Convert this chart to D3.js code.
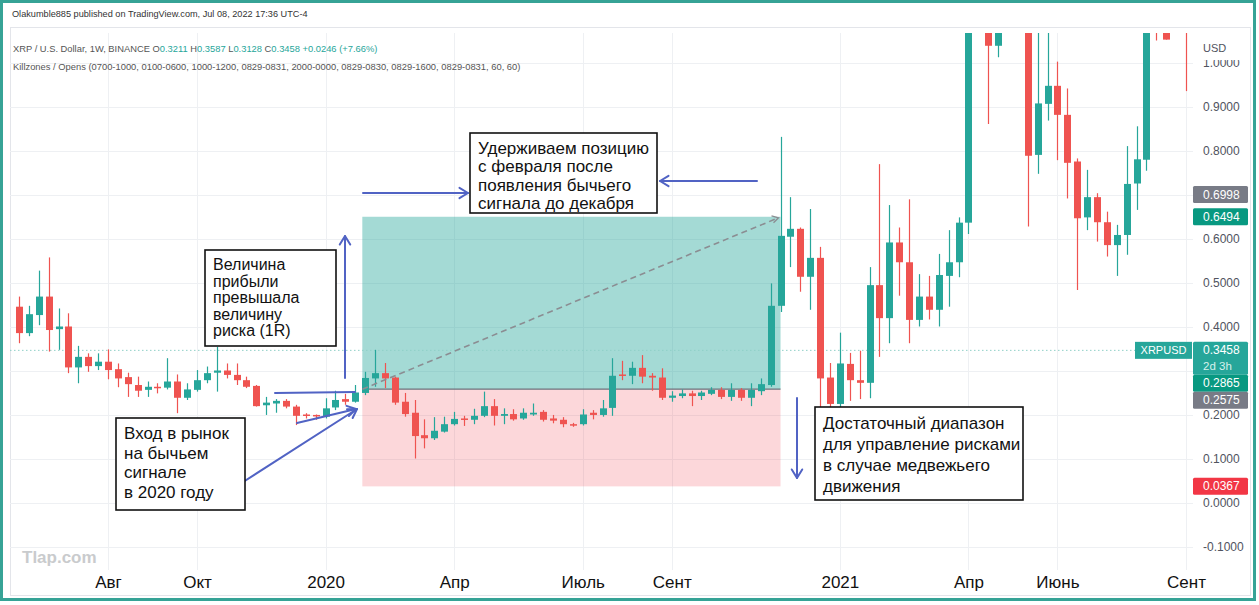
<!DOCTYPE html>
<html>
<head>
<meta charset="utf-8">
<script src="https://cdn.jsdelivr.net/npm/d3@7"></script>
<style>
body { margin: 0; background: #fff; }
svg { display: block; }
text { font-family: "Liberation Sans", Arial, sans-serif; }
</style>
</head>
<body>
<div id="chart-area"></div>
<script>
/*
*    XRP / USD weekly, long position drawing
*/
var width = 1259;
var height = 605;

// weekly candles, first bar = week of 2019-06-03
var startDate = "2019-06-03";
var opens = [0.445,0.385,0.426,0.468,0.394,0.400,0.307,0.331,0.310,0.320,
  0.303,0.285,0.267,0.256,0.263,0.261,0.275,0.238,0.256,0.278,
  0.295,0.300,0.290,0.278,0.265,0.221,0.225,0.231,0.218,0.200,
  0.199,0.195,0.216,0.235,0.229,0.249,0.282,0.294,0.284,0.229,
  0.204,0.153,0.146,0.161,0.178,0.191,0.188,0.197,0.219,0.197,
  0.201,0.191,0.200,0.206,0.191,0.188,0.178,0.178,0.204,0.199,
  0.215,0.291,0.288,0.306,0.288,0.284,0.238,0.242,0.248,0.242,
  0.247,0.256,0.240,0.256,0.238,0.253,0.267,0.447,0.604,0.622,
  0.513,0.556,0.284,0.224,0.315,0.278,0.272,0.494,0.419,0.591,
  0.546,0.415,0.468,0.438,0.515,0.546,0.636,1.380,1.300,1.038,
  1.600,1.530,1.550,0.790,0.906,0.947,0.881,0.775,0.648,0.694,
  0.637,0.585,0.608,0.725,0.779,1.200,1.120,1.100,1.240];
var highs = [0.468,0.447,0.527,0.557,0.441,0.430,0.356,0.339,0.339,0.348,
  0.316,0.295,0.286,0.275,0.271,0.328,0.291,0.271,0.301,0.309,
  0.354,0.316,0.316,0.286,0.267,0.240,0.235,0.235,0.222,0.203,
  0.200,0.237,0.254,0.247,0.267,0.297,0.347,0.317,0.286,0.249,
  0.233,0.189,0.194,0.195,0.206,0.197,0.213,0.252,0.235,0.214,
  0.212,0.214,0.225,0.210,0.199,0.194,0.181,0.212,0.210,0.233,
  0.328,0.322,0.320,0.335,0.294,0.305,0.253,0.257,0.254,0.254,
  0.262,0.262,0.271,0.260,0.271,0.282,0.498,0.831,0.694,0.625,
  0.667,0.581,0.317,0.386,0.340,0.345,0.535,0.769,0.676,0.625,
  0.689,0.519,0.515,0.565,0.619,0.648,1.420,1.960,1.450,1.700,
  1.750,1.760,1.700,1.100,1.100,1.002,0.941,0.782,0.756,0.703,
  0.661,0.631,0.810,0.855,1.250,1.300,1.200,1.350,1.410];
var lows = [0.362,0.378,0.403,0.343,0.347,0.294,0.271,0.297,0.301,0.280,
  0.262,0.240,0.240,0.240,0.248,0.257,0.203,0.233,0.252,0.271,
  0.252,0.282,0.267,0.260,0.218,0.199,0.204,0.214,0.176,0.191,
  0.188,0.191,0.210,0.222,0.227,0.244,0.263,0.260,0.222,0.195,
  0.100,0.123,0.142,0.159,0.175,0.174,0.178,0.194,0.175,0.178,
  0.186,0.188,0.197,0.184,0.180,0.171,0.172,0.175,0.189,0.195,
  0.197,0.278,0.269,0.271,0.254,0.233,0.229,0.237,0.219,0.233,
  0.244,0.235,0.231,0.231,0.219,0.244,0.263,0.433,0.535,0.479,
  0.438,0.210,0.205,0.205,0.231,0.235,0.237,0.331,0.362,0.470,
  0.362,0.400,0.416,0.400,0.445,0.512,0.610,1.100,0.860,1.012,
  1.300,1.450,0.627,0.747,0.868,0.778,0.691,0.483,0.619,0.593,
  0.559,0.515,0.563,0.665,0.754,1.050,1.052,1.080,0.935];
var closes = [0.385,0.428,0.468,0.392,0.400,0.307,0.331,0.310,0.320,0.301,
  0.282,0.269,0.254,0.263,0.260,0.275,0.238,0.257,0.278,0.294,
  0.300,0.290,0.278,0.263,0.219,0.227,0.231,0.218,0.197,0.198,
  0.197,0.214,0.233,0.229,0.250,0.283,0.294,0.282,0.227,0.201,
  0.151,0.146,0.163,0.178,0.190,0.188,0.197,0.219,0.197,0.201,
  0.189,0.204,0.204,0.188,0.186,0.178,0.176,0.200,0.199,0.214,
  0.288,0.289,0.306,0.286,0.284,0.238,0.243,0.248,0.242,0.250,
  0.256,0.240,0.256,0.238,0.256,0.269,0.447,0.606,0.622,0.513,
  0.556,0.282,0.224,0.316,0.278,0.272,0.494,0.419,0.591,0.546,
  0.415,0.468,0.438,0.517,0.546,0.636,1.380,1.300,1.038,1.600,
  1.530,1.600,0.788,0.907,0.947,0.881,0.772,0.646,0.694,0.637,
  0.585,0.608,0.724,0.780,1.180,1.120,1.052,1.200,1.100];

// axis ticks
var monthTicks = ["2019-08-05","2019-10-07","2020-01-06","2020-04-06","2020-07-06",
  "2020-09-07","2021-01-04","2021-04-05","2021-06-07","2021-09-06"];
var monthLabels = ["Авг","Окт","2020","Апр","Июль","Сент","2021","Апр","Июнь","Сент"];
var priceTicks = [-0.1,0,0.1,0.2,0.3,0.4,0.5,0.6,0.7,0.8,0.9,1.0];

// long position tool
var posStart = "2020-02-01";
var posEnd = "2020-11-23";
var entryPrice = 0.2575;
var targetPrice = 0.6494;
var stopPrice = 0.0367;
var lastPrice = 0.3458;

// price tags on the scale
var tagValues = [0.6998, 0.6494, 0.3458, 0.2865, 0.2575, 0.0367];
var tagTexts = ["0.6998", "0.6494", "0.3458", "0.2865", "0.2575", "0.0367"];
var tagSubs = ["", "", "2d 3h", "", "", ""];
var tagColors = ["#787b86", "#089981", "#26a69a", "#089981", "#787b86", "#f23645"];

var green = "#26a69a", red = "#ef5350", blue = "#5163c4";
var parse = d3.utcParse("%Y-%m-%d");

var svg = d3.select("#chart-area")
  .append("svg")
  .attr("width", width)
  .attr("height", height);

svg.append("rect").attr("width", width).attr("height", height).attr("fill", "#fff");

var t0 = parse(startDate);
var data = opens.map(function(o, i) {
  return {date: d3.utcDay.offset(t0, 7 * i), o: o, h: highs[i], l: lows[i], c: closes[i]};
});

var x = d3.scaleUtc()
  .domain([t0, data[data.length - 1].date])
  .range([19, 1186]);
var y = d3.scaleLinear().domain([-0.1, 1.0]).range([546.5, 62.5]);

var plot = {left: 10, right: 1193, top: 33, bottom: 570};

svg.append("clipPath").attr("id", "clip")
  .append("rect")
  .attr("x", plot.left).attr("y", plot.top)
  .attr("width", plot.right - plot.left).attr("height", plot.bottom - plot.top);

// fit a text to the width it has in the picture
function fitText(sel, target) {
  var w = sel.node().getComputedTextLength();
  var fs = parseFloat(sel.attr("font-size"));
  sel.attr("font-size", (fs * target / w).toFixed(2) + "px");
}

// header
var head = svg.append("text")
  .attr("x", 12).attr("y", 17)
  .attr("font-size", "10.5px").attr("fill", "#333")
  .text("Olakumble885 published on TradingView.com, Jul 08, 2022 17:36 UTC-4");
fitText(head, 296);

svg.append("rect")
  .attr("x", 10.5).attr("y", 27.5)
  .attr("width", 1240).attr("height", 568)
  .attr("fill", "none").attr("stroke", "#e3e5ea");

// grid
var grid = svg.append("g").attr("clip-path", "url(#clip)");
grid.selectAll(".hgrid").data(priceTicks).enter().append("line")
  .attr("x1", plot.left).attr("x2", plot.right)
  .attr("y1", function(d) { return Math.round(y(d)) + 0.5; })
  .attr("y2", function(d) { return Math.round(y(d)) + 0.5; })
  .attr("stroke", "#eef0f3");
grid.selectAll(".vgrid").data(monthTicks).enter().append("line")
  .attr("x1", function(d) { return Math.round(x(parse(d))) + 0.5; })
  .attr("x2", function(d) { return Math.round(x(parse(d))) + 0.5; })
  .attr("y1", plot.top).attr("y2", plot.bottom)
  .attr("stroke", "#eef0f3");

// position zones
var px0 = x(parse(posStart)), px1 = x(parse(posEnd));
svg.append("rect")
  .attr("x", px0).attr("y", y(targetPrice))
  .attr("width", px1 - px0).attr("height", y(entryPrice) - y(targetPrice))
  .attr("fill", "rgba(38,166,154,0.42)");
svg.append("rect")
  .attr("x", px0).attr("y", y(entryPrice))
  .attr("width", px1 - px0).attr("height", y(stopPrice) - y(entryPrice))
  .attr("fill", "rgba(242,54,69,0.2)");
svg.append("line")
  .attr("x1", px0).attr("x2", px1)
  .attr("y1", y(entryPrice)).attr("y2", y(entryPrice))
  .attr("stroke", "#6f727c").attr("stroke-width", 1.3);

// last price dotted line
svg.append("line")
  .attr("x1", plot.left).attr("x2", plot.right)
  .attr("y1", y(lastPrice)).attr("y2", y(lastPrice))
  .attr("stroke", "#8fcfc7").attr("stroke-dasharray", "1.5,2.5");

// candles
var cg = svg.append("g").attr("clip-path", "url(#clip)");
var candle = cg.selectAll(".candle").data(data).enter().append("g");
candle.append("line")
  .attr("x1", function(d) { return Math.round(x(d.date)) + 0.5; })
  .attr("x2", function(d) { return Math.round(x(d.date)) + 0.5; })
  .attr("y1", function(d) { return y(d.h); })
  .attr("y2", function(d) { return y(d.l); })
  .attr("stroke", function(d) { return d.c >= d.o ? green : red; })
  .attr("stroke-width", 1.2);
candle.append("rect")
  .attr("x", function(d) { return Math.round(x(d.date)) - 3; })
  .attr("width", 7)
  .attr("y", function(d) { return y(Math.max(d.o, d.c)); })
  .attr("height", function(d) { return Math.max(1.5, Math.abs(y(d.o) - y(d.c))); })
  .attr("fill", function(d) { return d.c >= d.o ? green : red; });

// dashed path of the position
svg.append("line")
  .attr("x1", px0).attr("y1", y(entryPrice))
  .attr("x2", px1 - 2).attr("y2", y(targetPrice) + 1)
  .attr("stroke", "#8b8d92").attr("stroke-width", 1.6)
  .attr("stroke-dasharray", "6,4");
svg.append("path")
  .attr("d", "M" + (px1 - 9) + "," + (y(targetPrice) - 1) + "L" + (px1 - 2) + "," + (y(targetPrice) + 1) + "L" + (px1 - 7) + "," + (y(targetPrice) + 6))
  .attr("fill", "none").attr("stroke", "#8b8d92").attr("stroke-width", 1.3);

// price tags, stacked so they don't overlap
var tags = tagValues.map(function(v, i) {
  return {v: v, text: tagTexts[i], sub: tagSubs[i], color: tagColors[i], h: tagSubs[i] ? 33 : 17};
});
var lastBottom = -Infinity;
tags.forEach(function(t) {
  t.top = Math.max(y(t.v) - 8.5, lastBottom);
  lastBottom = t.top + t.h;
});

// price scale (labels whose centre sits under a tag are left out)
var visibleTicks = priceTicks.filter(function(v) {
  return !tags.some(function(t) { return y(v) >= t.top && y(v) <= t.top + t.h; });
});
var yAxisGroup = svg.append("g").attr("transform", "translate(1203,0)");
yAxisGroup.call(d3.axisRight(y).tickValues(visibleTicks)
  .tickFormat(function(d) { return d.toFixed(4); })
  .tickSize(0).tickPadding(0));
yAxisGroup.select(".domain").remove();
yAxisGroup.selectAll("text")
  .attr("font-family", "Liberation Sans, Arial, sans-serif")
  .attr("font-size", "12px").attr("fill", "#50535e");

svg.append("rect").attr("x", 1196).attr("y", 34).attr("width", 54).attr("height", 26).attr("fill", "#fff");
svg.append("text").attr("x", 1203).attr("y", 52)
  .attr("font-size", "11px").attr("fill", "#50535e").text("USD");

var tg = svg.selectAll(".tag").data(tags).enter().append("g");
tg.append("rect")
  .attr("x", 1193).attr("y", function(d) { return d.top; })
  .attr("width", 55).attr("height", function(d) { return d.h; })
  .attr("rx", 1.5)
  .attr("fill", function(d) { return d.color; });
tg.append("text")
  .attr("x", 1203).attr("y", function(d) { return d.top + 12.5; })
  .attr("font-size", "12px").attr("fill", "#fff")
  .text(function(d) { return d.text; });
tg.filter(function(d) { return d.sub; }).append("text")
  .attr("x", 1203).attr("y", function(d) { return d.top + 28.5; })
  .attr("font-size", "11.5px").attr("fill", "#d6f1ec")
  .text(function(d) { return d.sub; });

// symbol label at last price
svg.append("rect")
  .attr("x", 1135).attr("y", y(lastPrice) - 8.5)
  .attr("width", 57).attr("height", 17).attr("fill", green);
svg.append("text")
  .attr("x", 1163.5).attr("y", y(lastPrice) + 4)
  .attr("text-anchor", "middle")
  .attr("font-size", "11px").attr("fill", "#fff")
  .text("XRPUSD");

// time axis
var xAxisGroup = svg.append("g").attr("transform", "translate(0,576)");
xAxisGroup.call(d3.axisBottom(x)
  .tickValues(monthTicks.map(parse))
  .tickFormat(function(d, i) { return monthLabels[i]; })
  .tickSize(0).tickPadding(0));
xAxisGroup.select(".domain").remove();
xAxisGroup.selectAll("text")
  .attr("font-family", "Liberation Sans, Arial, sans-serif")
  .attr("font-size", "17px").attr("fill", "#111").attr("dy", "0.71em");

// legend
var leg = svg.append("text").attr("x", 13).attr("y", 52)
  .attr("font-size", "10.5px").attr("fill", "#555");
var legParts = [["XRP / U.S. Dollar, 1W, BINANCE  O", "#555"], ["0.3211", green], [" H", "#555"], ["0.3587", green],
  [" L", "#555"], ["0.3128", green], [" C", "#555"], ["0.3458", green], [" +0.0246 (+7.66%)", green]];
legParts.forEach(function(p) { leg.append("tspan").attr("fill", p[1]).text(p[0]); });
fitText(leg, 365);
var leg2 = svg.append("text").attr("x", 13).attr("y", 70)
  .attr("font-size", "10.5px").attr("fill", "#555")
  .text("Killzones / Opens (0700-1000, 0100-0600, 1000-1200, 0829-0831, 2000-0000, 0829-0830, 0829-1600, 0829-0831, 60, 60)");
fitText(leg2, 508);

// watermark
svg.append("text").attr("x", 22).attr("y", 563)
  .attr("font-size", "17px").attr("font-weight", "bold").attr("fill", "#c9cbcd")
  .text("Tlap.com");

// hand drawn arrows
function arrow(x1, y1, x2, y2, head) {
  svg.append("line")
    .attr("x1", x1).attr("y1", y1).attr("x2", x2).attr("y2", y2)
    .attr("stroke", blue).attr("stroke-width", 2).attr("stroke-linecap", "round");
  if (head) {
    var a = Math.atan2(y2 - y1, x2 - x1), s = 10;
    svg.append("path")
      .attr("d", "M" + (x2 - s * Math.cos(a - 0.55)) + "," + (y2 - s * Math.sin(a - 0.55)) +
        "L" + x2 + "," + y2 +
        "L" + (x2 - s * Math.cos(a + 0.55)) + "," + (y2 - s * Math.sin(a + 0.55)))
      .attr("fill", "none").attr("stroke", blue).attr("stroke-width", 2)
      .attr("stroke-linecap", "round").attr("stroke-linejoin", "round");
  }
}
arrow(345, 378, 345, 236, true);
arrow(363, 193, 468, 193, true);
arrow(757, 181, 660, 181, true);
arrow(797, 398, 797, 478, true);
arrow(275, 393, 355, 392, false);
arrow(297, 423, 356, 409, true);
arrow(240, 484, 357, 409, true);

// note boxes
function note(x0, y0, w, h, lines, lh, ty, fs) {
  svg.append("rect")
    .attr("x", x0).attr("y", y0).attr("width", w).attr("height", h)
    .attr("fill", "#fff").attr("stroke", "#111").attr("stroke-width", 1.6);
  var t = svg.append("text").attr("font-size", fs + "px").attr("fill", "#111");
  lines.forEach(function(l, i) {
    t.append("tspan").attr("x", x0 + 8).attr("y", ty + i * lh).text(l);
  });
}
note(205, 250, 131, 96, ["Величина", "прибыли", "превышала", "величину", "риска (1R)"], 16.6, 270, 16);
note(116, 418, 129, 92, ["Вход в рынок", "на бычьем", "сигнале", "в 2020 году"], 19.5, 439, 17);
note(470, 133, 187, 80, ["Удерживаем позицию", "с февраля после", "появления бычьего", "сигнала до декабря"], 18.3, 154, 17);
note(815, 407, 208, 93, ["Достаточный диапазон", "для управление рисками", "в случае медвежьего", "движения"], 21, 429, 17);

// frame
svg.append("rect")
  .attr("x", 1.5).attr("y", 1.5).attr("width", 1253).attr("height", 598)
  .attr("fill", "none").attr("stroke", "#36a396").attr("stroke-width", 3);
</script>
</body>
</html>
